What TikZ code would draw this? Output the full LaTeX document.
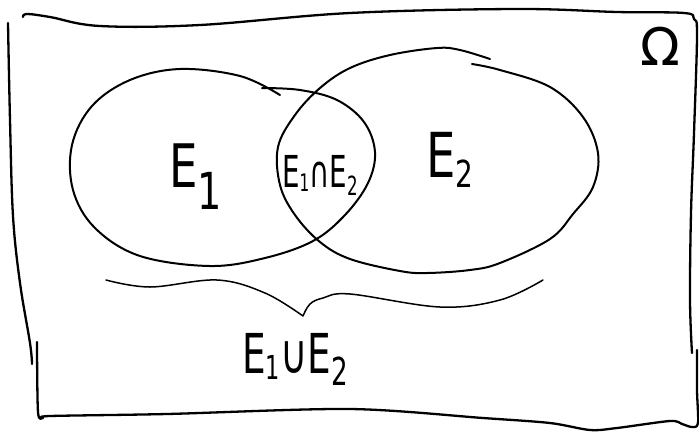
\documentclass[tikz,border=0pt]{standalone}
\usepackage{fontspec}
\setmainfont{DejaVu Sans}
\usepackage{graphicx}
\newcommand{\hand}[2][0.75]{\scalebox{#1}[1]{#2}}
\newcommand{\sub}[3]{\raisebox{-#2pt}{\scalebox{#1}{#3}}}

\begin{document}
\begin{tikzpicture}[x=1pt, y=-1pt,
    frame/.style={line width=2.3pt, line cap=round, line join=round},
    set/.style={line width=2pt, line cap=round, line join=round},
    brace/.style={line width=1.5pt, line cap=round},
    lbl/.style={inner sep=0pt, anchor=base west}]
    \useasboundingbox (0,0) rectangle (699,432);
    % sample space
    \draw[frame] plot[smooth, tension=0.6] coordinates {(23,17) (27,14) (50,17) (100,26) (200,25) (350,13) (517,9) (617,12) (684,13) (694,19) (697,35) (694,133) (691,213) (690,300) (692,353)};
    \draw[frame] plot[smooth, tension=0.6] coordinates {(8,23) (10,120) (13,216) (20,283) (30,343) (32,364)};
    \draw[frame] plot[smooth, tension=0.5] coordinates {(37,342) (38,412) (43,418) (50,416) (167,414) (350,409) (483,418) (550,423) (590,430) (617,428) (670,421) (682,424) (692,427) (698,423) (697,390) (697,350)};
    % events
    \draw[set] plot[smooth, tension=0.6] coordinates {(280,95) (240,76) (180,69) (130,80) (92,106) (72,145) (73,190) (95,228) (140,256) (210,266) (265,258) (313,241) (345,215) (368,183) (375,152) (364,122) (337,100) (300,90) (262,88)};
    \draw[set] plot[smooth, tension=0.6] coordinates {(490,59) (460,50) (437,48) (390,55) (350,68) (320,88) (295,115) (278,147) (280,185) (295,215) (320,242) (350,259) (400,271) (427,273) (470,270) (500,263) (550,239) (573,214) (593,187) (598,153) (583,117) (550,87) (500,70) (472,64)};
    % union brace
    \coordinate (tip) at (303,316);
    \draw[brace] plot[smooth, tension=0.6] coordinates {(106,280) (150,287) (217,280) (265,293) (tip)}
                 plot[smooth, tension=0.6] coordinates {(tip) (310,304) (323,298) (350,294) (440,307) (500,300) (543,280)};
    % labels
    \node[lbl, font=\fontsize{52}{52}\selectfont] (omega) at (640,65) {Ω};
    \node[lbl, font=\fontsize{60}{60}\selectfont] (e1) at (169,187) {\hand{E\sub{0.85}{22}{1}}};
    \node[lbl, font=\fontsize{62}{62}\selectfont] (e2) at (426,177) {\hand{E\sub{0.6}{10}{2}}};
    \node[lbl, font=\fontsize{44}{44}\selectfont] (cap) at (282,187) {\hand[0.63]{E\sub{0.55}{4}{1}∩E\sub{0.6}{8}{2}}};
    \node[lbl, font=\fontsize{55}{55}\selectfont] (cup) at (242,373) {\hand[0.68]{E\sub{0.6}{6}{1}∪E\sub{0.7}{12}{2}}};
\end{tikzpicture}
\end{document}
